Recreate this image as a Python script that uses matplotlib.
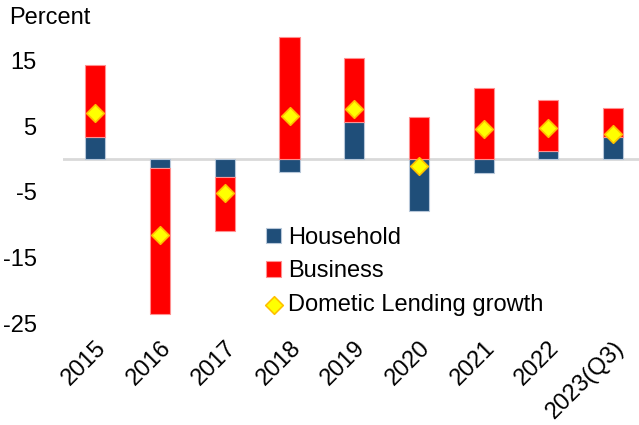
import numpy as np
import matplotlib.pyplot as plt

plt.rcParams['font.family'] = ['Liberation Sans', 'DejaVu Sans']
plt.rcParams['axes.unicode_minus'] = False

years = ["2015", "2016", "2017", "2018", "2019", "2020", "2021", "2022", "2023(Q3)"]
household = [3.4, -1.3, -2.8, -2.0, 5.7, -7.9, -2.1, 1.3, 3.4]
business = [11.0, -22.3, -8.1, 18.7, 9.7, 6.4, 10.9, 7.7, 4.4]
growth = [7.0, -11.6, -5.1, 6.6, 7.6, -1.1, 4.6, 4.7, 3.9]

hh = np.array(household)
bs = np.array(business)
# business stacks on household when both have the same sign, otherwise starts at zero
base = np.where(np.sign(hh) == np.sign(bs), hh, 0)

fig = plt.figure(figsize=(6.39, 4.25), dpi=100)
ax = fig.add_axes([0.0986, 0.24, 0.9014, 0.694])

x = np.arange(len(years))
w = 0.31
ax.axhline(0, color="#d9d9d9", lw=2, zorder=1)
b1 = ax.bar(x, hh, w, color="#1f4e79", edgecolor="#b7c7d9", lw=0.8, label="Household", zorder=2)
b2 = ax.bar(x, bs, w, bottom=base, color="#ff0000", edgecolor="#ff9090", lw=0.8, label="Business", zorder=2)
sc = ax.scatter(x, growth, marker="D", s=80, color="#ffff00", edgecolors="#ffc000", lw=1.2,
                label="Dometic Lending growth", zorder=3)

ax.set_xlim(-0.5, 8.4)
ax.set_ylim(-25, 20)
ax.set_yticks([15, 5, -5, -15, -25])
ax.set_xticks(x)
ax.set_xticklabels(years, rotation=45, ha="right", rotation_mode="anchor")
ax.tick_params(axis="both", length=0, labelsize=17)
ax.tick_params(axis="y", pad=19)
ax.tick_params(axis="x", pad=10)
for s in ax.spines.values():
    s.set_visible(False)

fig.text(0.015, 0.958, "Percent", fontsize=17, va="center")

ax.legend([b1, b2, sc], ["Household", "Business", "Dometic Lending growth"],
          loc="upper left", bbox_to_anchor=(0.336, 0.358), frameon=False, fontsize=17,
          handlelength=0.65, handleheight=0.65, handletextpad=0.3, labelspacing=0.48,
          borderaxespad=0)

fig.savefig("out.png", dpi=100)
